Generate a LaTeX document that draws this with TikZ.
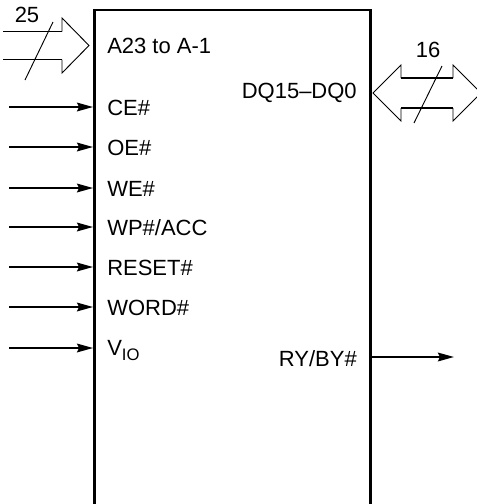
\documentclass[tikz,border=0pt]{standalone}
\usepackage{fontspec}
\setmainfont{Liberation Sans}
\usetikzlibrary{arrows.meta,positioning}

\begin{document}
\begin{tikzpicture}[x=0.75pt,y=-0.75pt,
    chip/.style={draw, rectangle, line width=2.2pt, minimum width=207pt, minimum height=397.5pt, inner sep=0pt},
    pin/.style={inner sep=0pt, anchor=base west, font=\fontsize{16.5}{19}\selectfont},
    rpin/.style={inner sep=0pt, anchor=base east, font=\fontsize{16.5}{19}\selectfont},
    width/.style={inner sep=0pt, anchor=base, font=\fontsize{16.5}{19}\selectfont},
    sig/.style={line width=1.5pt, -{Stealth[length=12pt,width=6.5pt,inset=1.5pt]}},
    shaft/.style={line width=1.1pt},
    head/.style={line width=0.7pt, line join=miter},
    slash/.style={line width=0.7pt}]
\useasboundingbox (0,0) rectangle (477,504);
\clip (0,0) rectangle (477,504);

\node[chip] (chip) at (232.5,275) {};

\node[pin] (addr) at (107,53) {A23 to A-1};
\node[rpin] (dq) at (357,98) {DQ15--DQ0};
\node[pin] (ce) at (107,115) {CE\#};
\node[pin] (oe) at (107,155) {OE\#};
\node[pin] (we) at (107,196) {WE\#};
\node[pin] (wp) at (107,235) {WP\#/ACC};
\node[pin] (reset) at (107,275) {RESET\#};
\node[pin] (word) at (107,315) {WORD\#};
\node[pin] (vio) at (107,355) {V\raisebox{-4pt}{\fontsize{12.5}{13}\selectfont IO}};
\node[rpin] (ry) at (357,366) {RY/BY\#};

\coordinate (cein) at (9,107);
\coordinate (oein) at (9,147);
\coordinate (wein) at (9,188);
\coordinate (wpin) at (9,227);
\coordinate (resetin) at (9,267);
\coordinate (wordin) at (9,307);
\coordinate (vioin) at (9,348);
\coordinate (ryout) at (454,357);

\draw[sig] (cein) -- (cein -| chip.west);
\draw[sig] (oein) -- (oein -| chip.west);
\draw[sig] (wein) -- (wein -| chip.west);
\draw[sig] (wpin) -- (wpin -| chip.west);
\draw[sig] (resetin) -- (resetin -| chip.west);
\draw[sig] (wordin) -- (wordin -| chip.west);
\draw[sig] (vioin) -- (vioin -| chip.west);
\draw[sig] (ryout -| chip.east) -- (ryout);

\draw[shaft] (3,31.5) -- (62,31.5);
\draw[shaft] (3,59.5) -- (62,59.5);
\draw[head] (62,31.5) -- (62,18) -- (89,45.5) -- (62,73) -- (62,59.5);
\draw[slash] (25,80) -- (53,22);
\node[width] (addrw) at (27,22) {25};

\draw[shaft] (401,78) -- (453,78);
\draw[shaft] (401,108) -- (453,108);
\draw[head] (401,78) -- (401,65) -- (373,93) -- (401,121) -- (401,108);
\draw[head] (453,78) -- (453,65) -- (481,93) -- (453,121) -- (453,108);
\draw[slash] (414,123) -- (442,66);
\node[width] (dqw) at (428,57) {16};
\end{tikzpicture}
\end{document}
